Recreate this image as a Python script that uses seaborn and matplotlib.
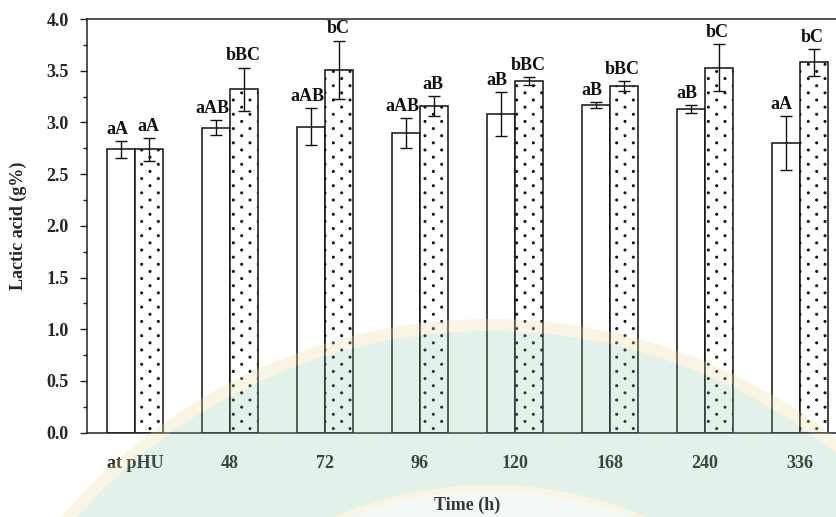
import numpy as np
import pandas as pd
import matplotlib
matplotlib.use("Agg")
import matplotlib.pyplot as plt
import matplotlib.hatch as mhatch
from matplotlib.path import Path
import seaborn as sns
from matplotlib.patches import Wedge, Circle
from matplotlib.transforms import IdentityTransform
from matplotlib.ticker import MultipleLocator, FormatStrFormatter

# Sampling times
times = ["at pHU", "48", "72", "96", "120", "168", "240", "336"]

# Lactic acid (g%) – open bars
plain_mean = [2.74, 2.95, 2.96, 2.90, 3.08, 3.17, 3.13, 2.80]
plain_err = [0.08, 0.07, 0.18, 0.145, 0.21, 0.03, 0.04, 0.26]
plain_letters = ["aA", "aAB", "aAB", "aAB", "aB", "aB", "aB", "aA"]

# Lactic acid (g%) – dotted bars
dotted_mean = [2.74, 3.32, 3.51, 3.16, 3.40, 3.35, 3.53, 3.58]
dotted_err = [0.11, 0.21, 0.28, 0.095, 0.04, 0.05, 0.23, 0.13]
dotted_letters = ["aA", "bBC", "bC", "aB", "bBC", "bBC", "bC", "bC"]

series = ["open", "dotted"]


class SparseDots(mhatch.HatchPatternBase):
    """Small filled dots on a staggered lattice (6 per row, 14 rows per tile)."""
    nx, ny, radius = 6, 14, 0.0095

    def __init__(self, hatch, density):
        circle = Path.unit_circle()
        self.shape_vertices = circle.vertices
        self.shape_codes = circle.codes
        self.positions = []
        if hatch.count(".") > 0:
            for j in range(self.ny + 1):
                shift = 0.5 / self.nx if j % 2 else 0.0
                for i in range(self.nx + 1):
                    x = i / self.nx + shift
                    if x <= 1.0 + 1e-9:
                        self.positions.append((x, j / self.ny))
        self.num_vertices = len(self.positions) * len(self.shape_vertices)

    def set_vertices_and_codes(self, vertices, codes):
        n = len(self.shape_vertices)
        cur = 0
        for x, y in self.positions:
            vertices[cur:cur + n] = self.shape_vertices * self.radius + (x, y)
            codes[cur:cur + n] = self.shape_codes
            cur += n


mhatch._hatch_types = [SparseDots if t is mhatch.SmallFilledCircles else t
                       for t in mhatch._hatch_types]

sns.set_style("ticks")
plt.rcParams["font.family"] = ["Liberation Serif", "DejaVu Serif"]
plt.rcParams["font.weight"] = "bold"
plt.rcParams["hatch.color"] = "#111111"
plt.rcParams["hatch.linewidth"] = 0.8

df = pd.DataFrame({
    "time": times * 2,
    "acid": plain_mean + dotted_mean,
    "series": [series[0]] * len(times) + [series[1]] * len(times),
})

fig = plt.figure(figsize=(8.37, 5.17), dpi=100)
ax = fig.add_axes([87 / 837, 84.3 / 517, 760 / 837, 413.7 / 517])

sns.barplot(data=df, x="time", y="acid", hue="series", order=times,
            hue_order=series, palette=["white", "white"], saturation=1,
            edgecolor="#111111", linewidth=1.1, width=0.59,
            errorbar=None, legend=False, ax=ax)

for bar in ax.containers[1]:
    bar.set_hatch(".")

for k, (cont, means, errs, letters) in enumerate(zip(
        ax.containers, [plain_mean, dotted_mean], [plain_err, dotted_err],
        [plain_letters, dotted_letters])):
    xs = [b.get_x() + b.get_width() / 2 for b in cont]
    ax.errorbar(xs, means, yerr=errs, fmt="none", ecolor="#111111",
                elinewidth=1.0, capsize=4, capthick=1.0, zorder=5)
    shift = -0.04 if k == 0 else -0.01
    for x, m, e, t in zip(xs, means, errs, letters):
        ax.text(x + shift, m + e + 0.07, t, ha="center", va="baseline",
                fontsize=13, fontweight="bold", color="#111111", zorder=6)

ax.set_xlim(-0.505, 7.5)
ax.set_ylim(0, 4.0)
ax.yaxis.set_major_locator(MultipleLocator(0.5))
ax.yaxis.set_minor_locator(MultipleLocator(0.25))
ax.yaxis.set_major_formatter(FormatStrFormatter("%.1f"))
ax.tick_params(axis="y", which="major", length=5, width=1.0, pad=8,
               labelsize=13, color="#222222")
ax.tick_params(axis="y", which="minor", length=3, width=1.0, color="#222222")
ax.tick_params(axis="x", length=0, pad=16, labelsize=13)
for lbl in ax.get_xticklabels() + ax.get_yticklabels():
    lbl.set_fontweight("bold")

for side in ["top", "bottom", "left", "right"]:
    ax.spines[side].set_color("#222222")
    ax.spines[side].set_linewidth(1.1)

ax.set_xlabel("Time (h)", fontsize=13, fontweight="bold", labelpad=18)
ax.set_ylabel("Lactic acid (g%)", fontsize=13, fontweight="bold", labelpad=14)

# Faint institutional seal printed across the lower part of the page
cx, cy = 490, 517 - 882
tr = IdentityTransform()
fig.add_artist(Wedge((cx, cy), 563, 0, 360, width=12, transform=tr,
                     facecolor="#f0dc9a", edgecolor="none", alpha=0.28, zorder=20))
fig.add_artist(Wedge((cx, cy), 551, 0, 360, width=154, transform=tr,
                     facecolor="#7fc29c", edgecolor="none", alpha=0.22, zorder=20))
fig.add_artist(Wedge((cx, cy), 397, 0, 360, width=6, transform=tr,
                     facecolor="#f0dc9a", edgecolor="none", alpha=0.28, zorder=20))
fig.add_artist(Circle((cx, cy), 391, transform=tr,
                      facecolor="#9fd2b4", edgecolor="none", alpha=0.12, zorder=20))

fig.savefig("out.png", dpi=100)
